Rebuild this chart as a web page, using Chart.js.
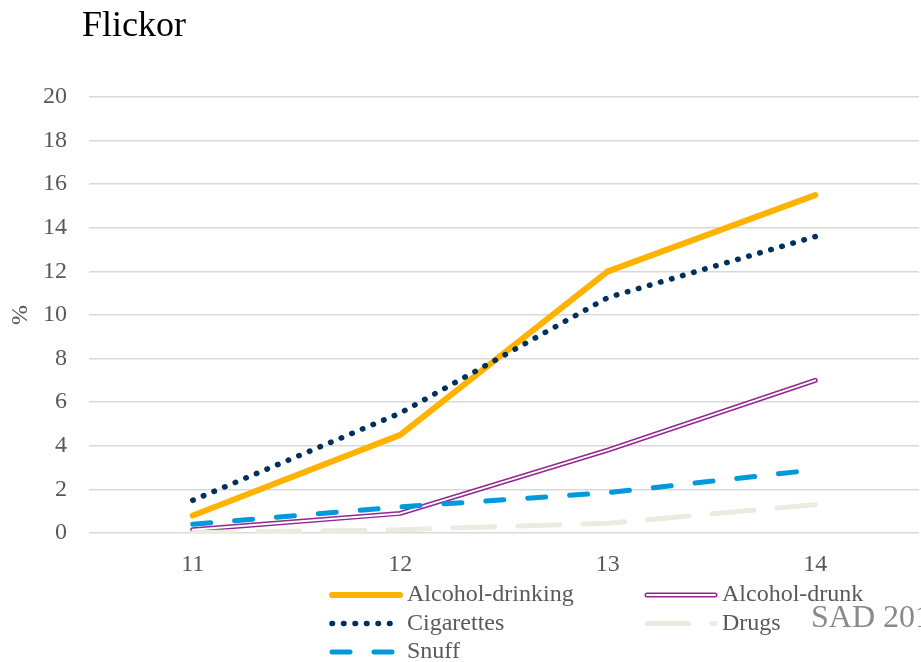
<!DOCTYPE html>
<html>
<head>
<meta charset="utf-8">
<title>Flickor</title>
<script src="https://cdn.jsdelivr.net/npm/chart.js@4"></script>
<style>
  html, body { margin: 0; padding: 0; background: #fff; }
  #wrap { position: relative; width: 921px; height: 662px; }
</style>
</head>
<body>
<div id="wrap"><canvas id="chart"></canvas></div>
<script>
// Data (percent, girls by age)
const ages = ['11', '12', '13', '14'];
const alcoholDrinking = [0.8, 4.5, 12.0, 15.5];
const alcoholDrunk = [0.15, 0.9, 3.8, 7.0];
const cigarettes = [1.5, 5.5, 10.8, 13.6];
const drugs = [0.02, 0.15, 0.45, 1.3];
const snuff = [0.4, 1.2, 1.85, 2.9];
const yTicks = [0, 2, 4, 6, 8, 10, 12, 14, 16, 18, 20];

const SERIF = '"Liberation Serif", "Times New Roman", serif';
const GREY_TEXT = '#595959';

const datasets = [
    { label: 'Alcohol-drinking', data: alcoholDrinking, borderColor: '#FFB300', borderWidth: 6, order: 6 },
    { label: 'Alcohol-drunk', data: alcoholDrunk, borderColor: '#93278F', borderWidth: 5, order: 5, double: true },
    { label: '', data: alcoholDrunk, borderColor: '#ffffff', borderWidth: 2, order: 4, inner: true },
    { label: 'Cigarettes', data: cigarettes, borderColor: '#00305E', borderWidth: 5.5, borderDash: [0.5, 11], order: 3 },
    { label: 'Drugs', data: drugs, borderColor: '#EBEBE0', borderWidth: 5, borderDash: [42, 23], order: 2 },
    { label: 'Snuff', data: snuff, borderColor: '#0099DB', borderWidth: 5, borderDash: [18, 24], order: 1 }
].map(d => Object.assign({
    fill: false, tension: 0, pointRadius: 0, pointHoverRadius: 0,
    borderCapStyle: 'round', borderJoinStyle: 'round'
}, d));

// Legend in two columns, the order used in the reference
const legendLeft = ['Alcohol-drinking', 'Cigarettes', 'Snuff'];
const legendRight = ['Alcohol-drunk', 'Drugs'];

const extrasPlugin = {
    id: 'extras',
    afterDraw(chart) {
        const ctx = chart.ctx;
        ctx.save();

        // title
        ctx.fillStyle = '#000';
        ctx.font = '36px ' + SERIF;
        ctx.textAlign = 'left';
        ctx.textBaseline = 'alphabetic';
        ctx.fillText('Flickor', 82, 36);

        // legend
        const drawItem = (label, x, y) => {
            const ds = datasets.find(d => d.label === label);
            ctx.save();
            ctx.lineCap = 'round';
            ctx.strokeStyle = ds.borderColor;
            ctx.lineWidth = ds.borderWidth;
            ctx.setLineDash(ds.borderDash || []);
            ctx.beginPath();
            ctx.moveTo(x + 2, y);
            ctx.lineTo(x + 70, y);
            ctx.stroke();
            if (ds.double) {
                ctx.strokeStyle = '#fff';
                ctx.lineWidth = 2;
                ctx.beginPath();
                ctx.moveTo(x + 2, y);
                ctx.lineTo(x + 70, y);
                ctx.stroke();
            }
            ctx.restore();
            ctx.fillStyle = GREY_TEXT;
            ctx.font = '24px ' + SERIF;
            ctx.textBaseline = 'alphabetic';
            ctx.fillText(label, x + 77, y + 6);
        };
        legendLeft.forEach((l, i) => drawItem(l, 330, 595 + i * 28.5));
        legendRight.forEach((l, i) => drawItem(l, 645, 595 + i * 28.5));

        // source note, cut by the right edge as in the reference
        ctx.fillStyle = '#898989';
        ctx.font = '32px ' + SERIF;
        ctx.fillText('SAD 2019', 811, 627);

        ctx.restore();
    }
};

new Chart(document.getElementById('chart'), {
    type: 'line',
    data: { labels: ages, datasets },
    options: {
        responsive: true,
        maintainAspectRatio: false,
        animation: false,
        layout: { padding: { top: 97, left: 0, right: 2, bottom: 0 } },
        plugins: {
            legend: { display: false },
            title: { display: false },
            tooltip: { enabled: false }
        },
        scales: {
            x: {
                offset: true,
                grid: { display: false, drawTicks: false },
                border: { display: false },
                ticks: { color: GREY_TEXT, font: { family: SERIF, size: 24 }, padding: 17 },
                afterFit(scale) { scale.height = 129; }
            },
            y: {
                min: 0,
                max: 20,
                afterBuildTicks(scale) { scale.ticks = yTicks.map(v => ({ value: v })); },
                grid: { color: '#D9D9D9', lineWidth: 1.5, drawTicks: false },
                border: { display: false },
                ticks: { color: GREY_TEXT, font: { family: SERIF, size: 24 }, padding: 22 },
                title: {
                    display: true, text: '%', color: GREY_TEXT,
                    font: { family: SERIF, size: 24 }, padding: { top: 6, bottom: 0 }
                },
                afterFit(scale) { scale.width = 89; }
            }
        }
    },
    plugins: [extrasPlugin]
});
</script>
</body>
</html>
